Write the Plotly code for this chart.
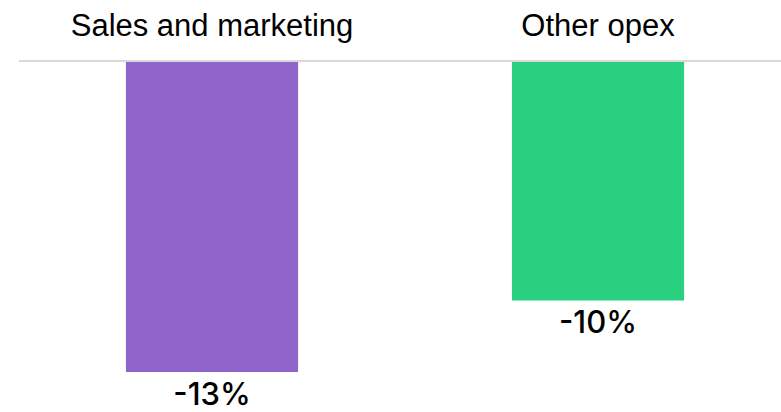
import plotly.graph_objects as go

# Year-over-year change in operating expenses
categories = ["Sales and marketing", "Other opex"]
changes = [-13, -10]
labels = ["-13%", "-10%"]
bar_colors = ["#9065CB", "#29D07F"]

fig = go.Figure(
    go.Bar(
        x=categories,
        y=changes,
        text=labels,
        textposition="outside",
        cliponaxis=False,
        textfont=dict(family="Inter", size=31, color="#000000", weight=500),
        marker=dict(color=bar_colors, line=dict(width=0)),
        width=0.446,
        hoverinfo="skip",
    )
)

fig.update_layout(
    width=781,
    height=412,
    margin=dict(l=19, r=0, t=62, b=0),
    paper_bgcolor="white",
    plot_bgcolor="white",
    showlegend=False,
    xaxis=dict(
        side="top",
        range=[-0.5, 1.474],
        showline=True,
        linecolor="#d9d9d9",
        linewidth=2,
        showgrid=False,
        zeroline=False,
        ticks="",
        ticklabelstandoff=12,
        tickfont=dict(family="Liberation Sans", size=31, color="#000000"),
    ),
    yaxis=dict(
        range=[-14.68, 0],
        visible=False,
        showgrid=False,
        zeroline=False,
    ),
)

fig.write_html("out.html")
